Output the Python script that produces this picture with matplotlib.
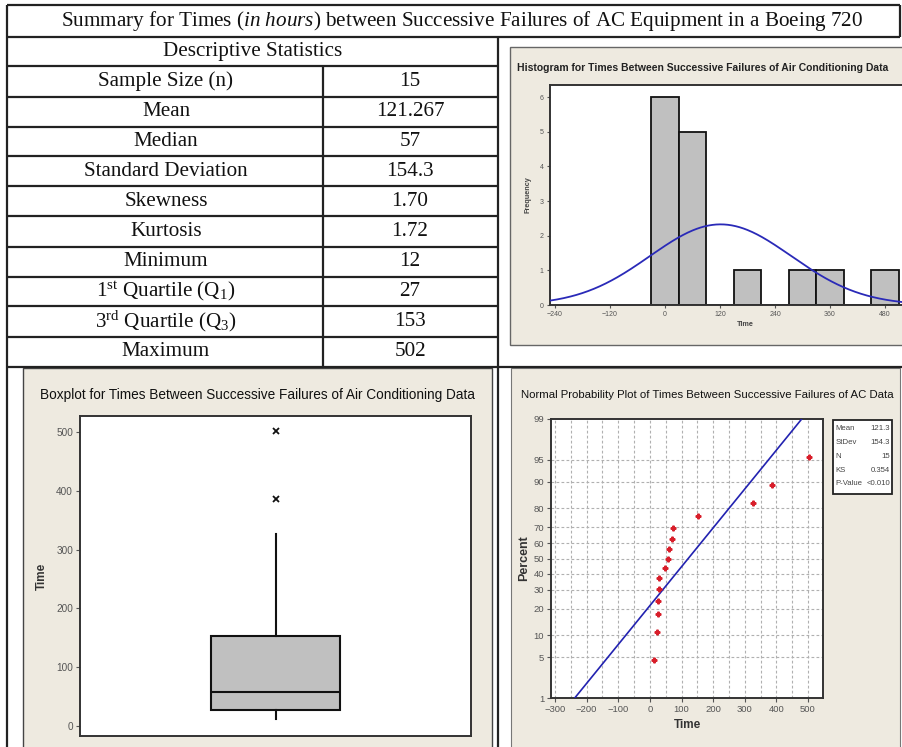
import numpy as np
import matplotlib
matplotlib.use("Agg")
import matplotlib.pyplot as plt
from matplotlib.patches import Rectangle
from statistics import NormalDist

# ---------------- data ----------------
times = [12, 21, 26, 27, 29, 29, 48, 57, 59, 70, 74, 153, 326, 386, 502]

table_title = r"Summary for Times ($\mathit{in\ hours}$) between Successive Failures of AC Equipment in a Boeing 720"
table_header = "Descriptive Statistics"
stat_labels = ["Sample Size (n)", "Mean", "Median", "Standard Deviation", "Skewness",
               "Kurtosis", "Minimum", r"1$^{\mathrm{st}}$ Quartile (Q$_{\mathrm{1}}$)",
               r"3$^{\mathrm{rd}}$ Quartile (Q$_{\mathrm{3}}$)", "Maximum"]
stat_values = ["15", "121.267", "57", "154.3", "1.70", "1.72", "12", "27", "153", "502"]

hist_edges = [-30, 30, 90, 150, 210, 270, 330, 390, 450, 510]
hist_xticks = [-240, -120, 0, 120, 240, 360, 480]
hist_yticks = [0, 1, 2, 3, 4, 5, 6]

box_yticks = [0, 100, 200, 300, 400, 500]

npp_xticks = [-300, -200, -100, 0, 100, 200, 300, 400, 500]
npp_yticks = [1, 5, 10, 20, 30, 40, 50, 60, 70, 80, 90, 95, 99]
legend_labels = ["Mean", "StDev", "N", "KS", "P-Value"]
legend_values = ["121.3", "154.3", "15", "0.354", "<0.010"]

hist_title = "Histogram for Times Between Successive Failures of Air Conditioning Data"
box_title = "Boxplot for Times Between Successive Failures of Air Conditioning Data"
npp_title = "Normal Probability Plot of Times Between Successive Failures of AC Data"

# ---------------- style ----------------
W, H = 902, 747
BEIGE = "#eeeae0"
LINE = "#222222"
FRAME = "#333333"
TICKC = "#555555"
SERIF = ["Liberation Serif", "DejaVu Serif"]
NARROW = ["Liberation Sans Narrow", "Liberation Sans", "DejaVu Sans"]
SANS = ["Liberation Sans", "DejaVu Sans"]

plt.rcParams["mathtext.fontset"] = "custom"
plt.rcParams["mathtext.rm"] = "Liberation Serif"
plt.rcParams["mathtext.it"] = "Liberation Serif:italic"
plt.rcParams["mathtext.bf"] = "Liberation Serif:bold"

fig = plt.figure(figsize=(W / 100, H / 100), dpi=100)
fig.patch.set_facecolor("white")


def pbox(l, t, r, b):
    return [l / W, 1 - b / H, (r - l) / W, (b - t) / H]


ov = fig.add_axes([0, 0, 1, 1], zorder=0)
ov.set_xlim(0, W)
ov.set_ylim(H, 0)
ov.axis("off")


def hline(y, x0, x1, lw=1.6):
    ov.plot([x0, x1], [y, y], color=LINE, lw=lw, solid_capstyle="butt")


def vline(x, y0, y1, lw=1.6):
    ov.plot([x, x], [y0, y1], color=LINE, lw=lw, solid_capstyle="butt")


# panel backgrounds
ov.add_patch(Rectangle((510, 47), 420, 298, facecolor=BEIGE, edgecolor="#666666", lw=1.0))
ov.add_patch(Rectangle((23, 368), 469, 400, facecolor=BEIGE, edgecolor="#444444", lw=1.0))
ov.add_patch(Rectangle((511, 368), 389, 400, facecolor=BEIGE, edgecolor="#777777", lw=0.8))

# table lines
hline(5, 7, 900)
hline(37, 7, 900)
vline(7, 5, 747)
vline(900, 5, 37)
vline(498, 37, 747)
hline(367, 7, 902)
rows = [37, 66, 97, 127, 156, 186, 216, 247, 277, 306, 337, 367]
for y in rows[1:-1]:
    hline(y, 7, 498)
vline(323, 66, 367)

FS = 15.2
ov.text(462, 21, table_title, ha="center", va="center", fontsize=FS, family=SERIF, color="#111111")
ov.text(253, 51.5, table_header, ha="center", va="center", fontsize=FS, family=SERIF, color="#111111")
for i, (lab, val) in enumerate(zip(stat_labels, stat_values)):
    yc = (rows[i + 1] + rows[i + 2]) / 2
    ov.text(166, yc, lab, ha="center", va="center", fontsize=FS, family=SERIF, color="#111111")
    ov.text(410, yc, val, ha="center", va="center", fontsize=FS, family=SERIF, color="#111111")

# panel titles
ov.text(517, 68, hist_title, ha="left", va="center", fontsize=7.5, family=SANS,
        fontweight="bold", color="#222222")
ov.text(258, 395, box_title, ha="center", va="center", fontsize=9.8, family=NARROW, color="#111111")
ov.text(707, 395, npp_title, ha="center", va="center", fontsize=8.2, family=NARROW, color="#111111")


def style_frame(ax):
    for s in ax.spines.values():
        s.set_color(FRAME)
        s.set_linewidth(1.4)
    ax.set_facecolor("white")


# ---------------- histogram ----------------
data = np.array(times, dtype=float)
n = len(data)
mean = data.mean()
sd = data.std(ddof=1)

axh = fig.add_axes(pbox(550, 85, 940, 305), zorder=2)
style_frame(axh)
px_per_unit = 220 / 480
xmin_h = -240 - 5 / px_per_unit
xmax_h = xmin_h + 390 / px_per_unit
axh.set_xlim(xmin_h, xmax_h)
axh.set_ylim(0, 6.35)
axh.hist(data, bins=hist_edges, color="#c0c0c0", edgecolor="#111111", linewidth=1.3, zorder=2)
xs = np.linspace(xmin_h, xmax_h, 400)
bw = hist_edges[1] - hist_edges[0]
ys = n * bw / (sd * np.sqrt(2 * np.pi)) * np.exp(-0.5 * ((xs - mean) / sd) ** 2)
axh.plot(xs, ys, color="#2a2ab8", lw=1.3, zorder=3)
axh.set_xticks(hist_xticks)
axh.set_yticks(hist_yticks)
axh.tick_params(labelsize=5, colors=TICKC, length=2.5, width=0.8, pad=2)
axh.set_xlabel("Time", fontsize=5.2, fontweight="bold", color="#444444", labelpad=2, family=SANS)
axh.set_ylabel("Frequency", fontsize=5.2, fontweight="bold", color="#444444", labelpad=6, family=SANS)
for lab in axh.get_xticklabels() + axh.get_yticklabels():
    lab.set_family(SANS)

# ---------------- boxplot ----------------
axb = fig.add_axes(pbox(80, 416, 471, 736), zorder=2)
style_frame(axb)
q1 = np.percentile(data, 25, method="weibull")
med = np.median(data)
q3 = np.percentile(data, 75, method="weibull")
iqr = q3 - q1
hi_fence = q3 + 1.5 * iqr
lo_fence = q1 - 1.5 * iqr
inside = data[(data >= lo_fence) & (data <= hi_fence)]
stats = [{"med": med, "q1": q1, "q3": q3, "whislo": inside.min(), "whishi": inside.max(),
          "fliers": data[(data > hi_fence) | (data < lo_fence)]}]
axb.bxp(stats, positions=[1], widths=0.33, patch_artist=True, showcaps=False,
        boxprops=dict(facecolor="#c0c0c0", edgecolor="#111111", linewidth=1.5),
        medianprops=dict(color="#111111", linewidth=1.5),
        whiskerprops=dict(color="#111111", linewidth=1.5),
        flierprops=dict(marker="x", markersize=4, markeredgecolor="#111111", markeredgewidth=1.3))
axb.set_xlim(0.5, 1.5)
axb.set_ylim(-17, 527)
axb.set_xticks([])
axb.set_yticks(box_yticks)
axb.tick_params(axis="y", labelsize=7.2, colors=TICKC, length=3, width=0.8, pad=2)
for lab in axb.get_yticklabels():
    lab.set_family(NARROW)
axb.set_ylabel("Time", fontsize=8.5, fontweight="bold", color="#333333", labelpad=6, family=NARROW)

# ---------------- normal probability plot ----------------
nd = NormalDist()
axn = fig.add_axes(pbox(551, 419, 823, 698), zorder=2)
style_frame(axn)
zlo, zhi = nd.inv_cdf(0.01), nd.inv_cdf(0.99)
ppx = 253 / 800
axn.set_xlim(-300 - 4 / ppx, -300 + (823 - 555) / ppx)
axn.set_ylim(zlo, zhi)
for gx in np.arange(-300, 551, 50):
    axn.axvline(gx, color="#b0b0b0", lw=0.8, ls=(0, (2.5, 2)), zorder=1)
for gy in npp_yticks[1:-1]:
    axn.axhline(nd.inv_cdf(gy / 100), color="#b0b0b0", lw=0.8, ls=(0, (2.5, 2)), zorder=1)
zz = np.linspace(zlo - 0.1, zhi + 0.1, 100)
axn.plot(mean + sd * zz, zz, color="#2222b0", lw=1.2, zorder=3)
srt = np.sort(data)
ranks = np.arange(1, n + 1)
zp = [nd.inv_cdf((r - 0.3) / (n + 0.4)) for r in ranks]
axn.plot(srt, zp, ls="none", marker="P", markersize=3.4, color="#d81e2a",
         markeredgecolor="#d81e2a", zorder=4)
axn.set_xticks(npp_xticks)
axn.set_yticks([nd.inv_cdf(p / 100) for p in npp_yticks])
axn.set_yticklabels([str(p) for p in npp_yticks])
axn.tick_params(labelsize=6.8, colors=TICKC, length=3, width=0.8, pad=2)
for lab in axn.get_xticklabels() + axn.get_yticklabels():
    lab.set_family(NARROW)
axn.set_xlabel("Time", fontsize=8.5, fontweight="bold", color="#333333", labelpad=4, family=NARROW)
axn.set_ylabel("Percent", fontsize=9, fontweight="bold", color="#333333", labelpad=2, family=NARROW)

# legend box for normal plot
ov.add_patch(Rectangle((833, 420), 59, 74, facecolor="white", edgecolor="#222222", lw=1.3, zorder=3))
for i, (lab, val) in enumerate(zip(legend_labels, legend_values)):
    yy = 429 + i * 13.7
    ov.text(835.5, yy, lab, ha="left", va="center", fontsize=5.6, family=NARROW, color="#444444", zorder=4)
    ov.text(890, yy, val, ha="right", va="center", fontsize=5.6, family=NARROW, color="#444444", zorder=4)

fig.savefig("out.png", dpi=100)
